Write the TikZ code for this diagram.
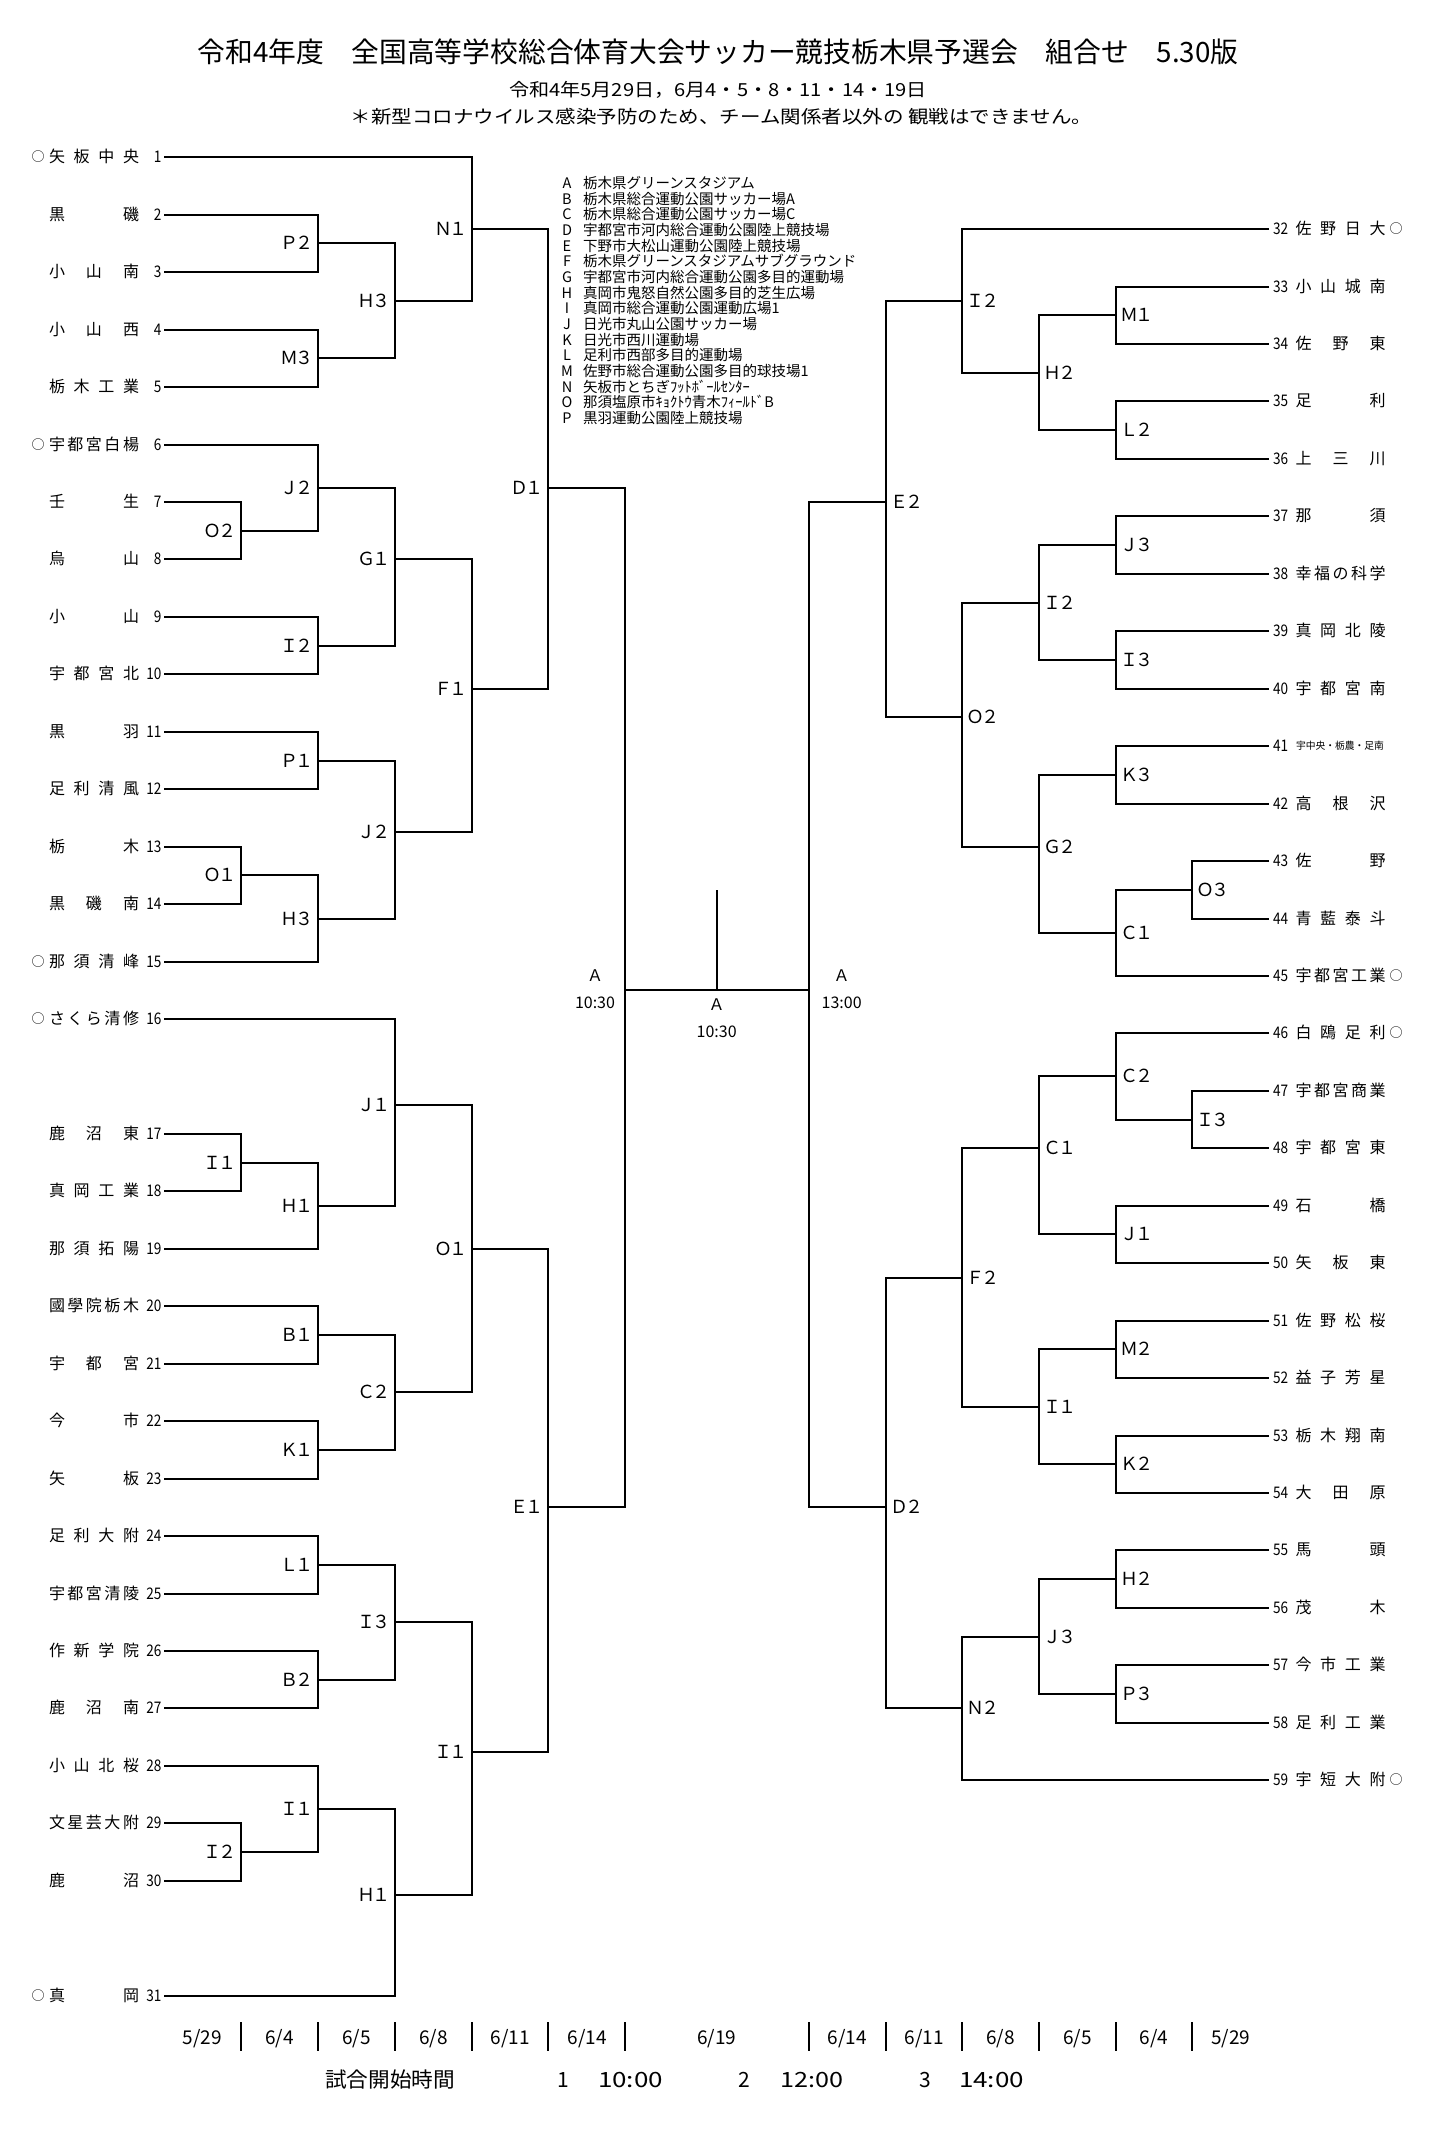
\documentclass[tikz,border=0pt]{standalone}
\usepackage{fontspec}
\setmainfont{Noto Sans CJK JP}
\usetikzlibrary{calc}
\makeatletter
\def\spr#1{\spr@a#1\spr@end}
\def\spr@a#1{#1\spr@b}
\def\spr@b#1{\ifx#1\spr@end\else\hfil#1\expandafter\spr@b\fi}
\def\spr@end{\relax\spr@end}
\makeatother
\newcommand\tnm[1]{\makebox[90pt][s]{\spr{#1}}}
\newcommand\kl[2]{#1\kern-3pt#2}
\newcommand\teamL[4]{%
  \coordinate (t#1) at (164,{Y(#2)});
  \node[txt,fnum,anchor=base east] (n#1) at (161.5,{Y(#2)}) {\scalebox{0.85}[1]{#1}};
  \node[txt,fname,anchor=base] (nm#1) at (94,{Y(#2)}) {\tnm{#4}};
  \ifx\relax#3\relax\else\node[txt,fcirc,anchor=base] (c#1) at (38,{Y(#2)}) {#3};\fi
}
\newcommand\teamR[4]{%
  \coordinate (t#1) at (1269,{Y(#2+1.25)});
  \node[txt,fnum,anchor=base west] (n#1) at (1273,{Y(#2+1.25)}) {\scalebox{0.85}[1]{#1}};
  \ifx\relax#4\relax\else\node[txt,fname,anchor=base] (nm#1) at (1340.5,{Y(#2+1.25)}) {\tnm{#4}};\fi
  \ifx\relax#3\relax\else\node[txt,fcirc,anchor=base] (c#1) at (1396,{Y(#2+1.25)}) {#3};\fi
}
\newcommand\mL[4]{%
  \coordinate (#1) at (#2,{Y(#3)});
  \node[txt,fmatch,anchor=base east] (#1l) at ({#2-5},{Y(#3)}) {\kl#4};
}
\newcommand\mR[4]{%
  \coordinate (#1) at (#2,{Y(#3+1.25)});
  \node[txt,fmatch,anchor=base west] (#1l) at ({#2+4},{Y(#3+1.25)}) {\kl#4};
}
\newcommand\br[3]{\draw[brl] (#1) -| (#3) |- (#2);}
\begin{document}
\begin{tikzpicture}[x=1pt,y=-1pt,
  declare function={Y(\s)=round(157.3+57.45*\s);},
  txt/.style={inner sep=0pt,outer sep=0pt},
  brl/.style={line width=2pt,line join=miter,black},
  fnum/.style={font=\fontsize{16}{16}\selectfont,yshift=-5.9pt},
  fname/.style={font=\fontsize{16}{16}\selectfont,yshift=-5.9pt},
  fcirc/.style={font=\fontsize{13}{13}\selectfont,yshift=-4.6pt},
  fmatch/.style={font=\fontsize{18}{18}\selectfont,yshift=-6.6pt},
  fleg/.style={font=\fontsize{14.5}{14.5}\selectfont,yshift=-5.4pt},
  fA/.style={font=\fontsize{16}{16}\selectfont,yshift=-5.9pt},
  fdate/.style={font=\fontsize{19}{19}\selectfont,yshift=-7pt},
  ftime/.style={font=\fontsize{21}{21}\selectfont,yshift=-7.8pt}
]
\fill[white] (0,0) rectangle (1438,2132);
\useasboundingbox (0,0) rectangle (1438,2132);

% ---------- header ----------
\node[txt,anchor=base,font=\fontsize{28}{28}\selectfont,yshift=-10.4pt] (title) at (718,51.7)
  {\resizebox{1041pt}{\height}{令和4年度　全国高等学校総合体育大会サッカー競技栃木県予選会　組合せ　5.30版}};
\node[txt,anchor=base,font=\fontsize{18}{18}\selectfont,yshift=-6.7pt] (sub1) at (718,89.8)
  {\resizebox{418pt}{\height}{令和4年5月29日，6月4・5・8・11・14・19日}};
\node[txt,anchor=base,font=\fontsize{18}{18}\selectfont,yshift=-6.7pt] (sub2) at (721.5,117)
  {\resizebox{741pt}{\height}{＊新型コロナウイルス感染予防のため、チーム関係者以外の 観戦はできません。}};

% ---------- legend ----------
\foreach \L/\N [count=\k from 0] in {A/栃木県グリーンスタジアム,B/栃木県総合運動公園サッカー場A,C/栃木県総合運動公園サッカー場C,D/宇都宮市河内総合運動公園陸上競技場,E/下野市大松山運動公園陸上競技場,F/栃木県グリーンスタジアムサブグラウンド,G/宇都宮市河内総合運動公園多目的運動場,H/真岡市鬼怒自然公園多目的芝生広場,I/真岡市総合運動公園運動広場1,J/日光市丸山公園サッカー場,K/日光市西川運動場,L/足利市西部多目的運動場,M/佐野市総合運動公園多目的球技場1,N/矢板市とちぎﾌｯﾄﾎﾞｰﾙｾﾝﾀｰ,O/那須塩原市ｷｮｸﾄｳ青木ﾌｨｰﾙﾄﾞB,P/黒羽運動公園陸上競技場}{
  \node[txt,fleg,anchor=base] (lg\k) at (567,{183+15.67*\k}) {\L};
  \node[txt,fleg,anchor=base west] (lgt\k) at (583,{183+15.67*\k}) {\N};
}

% ---------- left teams ----------
\teamL{1}{0}{○}{矢板中央}
\teamL{2}{1}{}{黒磯}
\teamL{3}{2}{}{小山南}
\teamL{4}{3}{}{小山西}
\teamL{5}{4}{}{栃木工業}
\teamL{6}{5}{○}{宇都宮白楊}
\teamL{7}{6}{}{壬生}
\teamL{8}{7}{}{烏山}
\teamL{9}{8}{}{小山}
\teamL{10}{9}{}{宇都宮北}
\teamL{11}{10}{}{黒羽}
\teamL{12}{11}{}{足利清風}
\teamL{13}{12}{}{栃木}
\teamL{14}{13}{}{黒磯南}
\teamL{15}{14}{○}{那須清峰}
\teamL{16}{15}{○}{さくら清修}
\teamL{17}{17}{}{鹿沼東}
\teamL{18}{18}{}{真岡工業}
\teamL{19}{19}{}{那須拓陽}
\teamL{20}{20}{}{國學院栃木}
\teamL{21}{21}{}{宇都宮}
\teamL{22}{22}{}{今市}
\teamL{23}{23}{}{矢板}
\teamL{24}{24}{}{足利大附}
\teamL{25}{25}{}{宇都宮清陵}
\teamL{26}{26}{}{作新学院}
\teamL{27}{27}{}{鹿沼南}
\teamL{28}{28}{}{小山北桜}
\teamL{29}{29}{}{文星芸大附}
\teamL{30}{30}{}{鹿沼}
\teamL{31}{32}{○}{真岡}

% ---------- right teams ----------
\teamR{32}{0}{○}{佐野日大}
\teamR{33}{1}{}{小山城南}
\teamR{34}{2}{}{佐野東}
\teamR{35}{3}{}{足利}
\teamR{36}{4}{}{上三川}
\teamR{37}{5}{}{那須}
\teamR{38}{6}{}{幸福の科学}
\teamR{39}{7}{}{真岡北陵}
\teamR{40}{8}{}{宇都宮南}
\teamR{41}{9}{}{}
\node[txt,anchor=base west,font=\fontsize{10}{10}\selectfont,yshift=-3.7pt] (nm41) at (1296,{Y(10.25)})
  {\resizebox{88pt}{\height}{宇中央・栃農・足南}};
\teamR{42}{10}{}{高根沢}
\teamR{43}{11}{}{佐野}
\teamR{44}{12}{}{青藍泰斗}
\teamR{45}{13}{○}{宇都宮工業}
\teamR{46}{14}{○}{白鴎足利}
\teamR{47}{15}{}{宇都宮商業}
\teamR{48}{16}{}{宇都宮東}
\teamR{49}{17}{}{石橋}
\teamR{50}{18}{}{矢板東}
\teamR{51}{19}{}{佐野松桜}
\teamR{52}{20}{}{益子芳星}
\teamR{53}{21}{}{栃木翔南}
\teamR{54}{22}{}{大田原}
\teamR{55}{23}{}{馬頭}
\teamR{56}{24}{}{茂木}
\teamR{57}{25}{}{今市工業}
\teamR{58}{26}{}{足利工業}
\teamR{59}{27}{○}{宇短大附}

% ---------- left matches ----------
\mL{LP2}{318}{1.5}{Ｐ２}
\mL{LM3}{318}{3.5}{Ｍ３}
\mL{LH3a}{395}{2.5}{Ｈ３}
\mL{LN1}{472}{1.25}{Ｎ１}
\mL{LO2}{241}{6.5}{Ｏ２}
\mL{LJ2a}{318}{5.75}{Ｊ２}
\mL{LI2a}{318}{8.5}{Ｉ２}
\mL{LG1}{395}{7}{Ｇ１}
\mL{LP1}{318}{10.5}{Ｐ１}
\mL{LO1a}{241}{12.5}{Ｏ１}
\mL{LH3b}{318}{13.25}{Ｈ３}
\mL{LJ2b}{395}{11.75}{Ｊ２}
\mL{LF1}{472}{9.25}{Ｆ１}
\mL{LD1}{548}{5.75}{Ｄ１}
\mL{LI1a}{241}{17.5}{Ｉ１}
\mL{LH1a}{318}{18.25}{Ｈ１}
\mL{LJ1}{395}{16.5}{Ｊ１}
\mL{LB1}{318}{20.5}{Ｂ１}
\mL{LK1}{318}{22.5}{Ｋ１}
\mL{LC2}{395}{21.5}{Ｃ２}
\mL{LO1b}{472}{19}{Ｏ１}
\mL{LL1}{318}{24.5}{Ｌ１}
\mL{LB2}{318}{26.5}{Ｂ２}
\mL{LI3}{395}{25.5}{Ｉ３}
\mL{LI2b}{241}{29.5}{Ｉ２}
\mL{LI1b}{318}{28.75}{Ｉ１}
\mL{LH1b}{395}{30.25}{Ｈ１}
\mL{LI1c}{472}{27.75}{Ｉ１}
\mL{LE1}{548}{23.5}{Ｅ１}
\coordinate (LA) at (625,{Y(14.5)});

\br{t2}{t3}{LP2}
\br{t4}{t5}{LM3}
\br{LP2}{LM3}{LH3a}
\br{t1}{LH3a}{LN1}
\br{t7}{t8}{LO2}
\br{t6}{LO2}{LJ2a}
\br{t9}{t10}{LI2a}
\br{LJ2a}{LI2a}{LG1}
\br{t11}{t12}{LP1}
\br{t13}{t14}{LO1a}
\br{LO1a}{t15}{LH3b}
\br{LP1}{LH3b}{LJ2b}
\br{LG1}{LJ2b}{LF1}
\br{LN1}{LF1}{LD1}
\br{t17}{t18}{LI1a}
\br{LI1a}{t19}{LH1a}
\br{t16}{LH1a}{LJ1}
\br{t20}{t21}{LB1}
\br{t22}{t23}{LK1}
\br{LB1}{LK1}{LC2}
\br{LJ1}{LC2}{LO1b}
\br{t24}{t25}{LL1}
\br{t26}{t27}{LB2}
\br{LL1}{LB2}{LI3}
\br{t29}{t30}{LI2b}
\br{t28}{LI2b}{LI1b}
\br{LI1b}{t31}{LH1b}
\br{LI3}{LH1b}{LI1c}
\br{LO1b}{LI1c}{LE1}
\br{LD1}{LE1}{LA}

% ---------- right matches ----------
\mR{RM1}{1116}{1.5}{Ｍ１}
\mR{RL2}{1116}{3.5}{Ｌ２}
\mR{RH2a}{1039}{2.5}{Ｈ２}
\mR{RI2a}{962}{1.25}{Ｉ２}
\mR{RJ3a}{1116}{5.5}{Ｊ３}
\mR{RI3a}{1116}{7.5}{Ｉ３}
\mR{RI2b}{1039}{6.5}{Ｉ２}
\mR{RK3}{1116}{9.5}{Ｋ３}
\mR{RO3}{1192}{11.5}{Ｏ３}
\mR{RC1a}{1116}{12.25}{Ｃ１}
\mR{RG2}{1039}{10.75}{Ｇ２}
\mR{RO2}{962}{8.5}{Ｏ２}
\mR{RE2}{886}{4.75}{Ｅ２}
\mR{RI3b}{1192}{15.5}{Ｉ３}
\mR{RC2}{1116}{14.75}{Ｃ２}
\mR{RJ1}{1116}{17.5}{Ｊ１}
\mR{RC1b}{1039}{16}{Ｃ１}
\mR{RM2}{1116}{19.5}{Ｍ２}
\mR{RK2}{1116}{21.5}{Ｋ２}
\mR{RI1}{1039}{20.5}{Ｉ１}
\mR{RF2}{962}{18.25}{Ｆ２}
\mR{RH2b}{1116}{23.5}{Ｈ２}
\mR{RP3}{1116}{25.5}{Ｐ３}
\mR{RJ3b}{1039}{24.5}{Ｊ３}
\mR{RN2}{962}{25.75}{Ｎ２}
\mR{RD2}{886}{22.25}{Ｄ２}
\coordinate (RA) at (809,{Y(14.5)});

\br{t33}{t34}{RM1}
\br{t35}{t36}{RL2}
\br{RM1}{RL2}{RH2a}
\br{t32}{RH2a}{RI2a}
\br{t37}{t38}{RJ3a}
\br{t39}{t40}{RI3a}
\br{RJ3a}{RI3a}{RI2b}
\br{t41}{t42}{RK3}
\br{t43}{t44}{RO3}
\br{RO3}{t45}{RC1a}
\br{RK3}{RC1a}{RG2}
\br{RI2b}{RG2}{RO2}
\br{RI2a}{RO2}{RE2}
\br{t47}{t48}{RI3b}
\br{t46}{RI3b}{RC2}
\br{t49}{t50}{RJ1}
\br{RC2}{RJ1}{RC1b}
\br{t51}{t52}{RM2}
\br{t53}{t54}{RK2}
\br{RM2}{RK2}{RI1}
\br{RC1b}{RI1}{RF2}
\br{t55}{t56}{RH2b}
\br{t57}{t58}{RP3}
\br{RH2b}{RP3}{RJ3b}
\br{RJ3b}{t59}{RN2}
\br{RF2}{RN2}{RD2}
\br{RE2}{RD2}{RA}

% ---------- final ----------
\draw[brl] (LA) -- (RA);
\coordinate (CT) at (717,890);
\coordinate (CB) at (717,{Y(14.5)});
\draw[brl] (CT) -- (CB);
\node[txt,fA,anchor=base] (LAa) at (595,976) {Ａ};
\node[txt,fA,anchor=base] (LAt) at (595,1002.7) {10:30};
\node[txt,fA,anchor=base] (CAa) at (716.7,1005) {Ａ};
\node[txt,fA,anchor=base] (CAt) at (716.7,1031.7) {10:30};
\node[txt,fA,anchor=base] (RAa) at (841.7,976) {Ａ};
\node[txt,fA,anchor=base] (RAt) at (841.7,1002.7) {13:00};

% ---------- dates ----------
\foreach \x [count=\k] in {241,318,395,472,548,625,809,886,962,1039,1116,1192}{
  \coordinate (s\k t) at (\x,2022);
  \coordinate (s\k b) at (\x,2051);
  \draw[brl] (s\k t) -- (s\k b);
}
\foreach \x/\d [count=\k] in {202.5/5\slash 29,279.5/6\slash 4,356.5/6\slash 5,433.5/6\slash 8,510/6\slash 11,587/6\slash 14,716.7/6\slash 19,847/6\slash 14,924/6\slash 11,1000.5/6\slash 8,1077.5/6\slash 5,1154/6\slash 4,1230.6/5\slash 29}{
  \node[txt,fdate,anchor=base] (dt\k) at (\x,2037) {\d};
}
\node[txt,ftime,anchor=base] (tm0) at (390,2079.5) {\resizebox{130pt}{\height}{試合開始時間}};
\node[txt,ftime,anchor=base] (tm1) at (563,2079.5) {1};
\node[txt,ftime,anchor=base] (tm1t) at (630.5,2079.5) {\resizebox{65pt}{\height}{10:00}};
\node[txt,ftime,anchor=base] (tm2) at (744,2079.5) {2};
\node[txt,ftime,anchor=base] (tm2t) at (811.5,2079.5) {\resizebox{63pt}{\height}{12:00}};
\node[txt,ftime,anchor=base] (tm3) at (925,2079.5) {3};
\node[txt,ftime,anchor=base] (tm3t) at (991.5,2079.5) {\resizebox{65pt}{\height}{14:00}};
\end{tikzpicture}
\end{document}
